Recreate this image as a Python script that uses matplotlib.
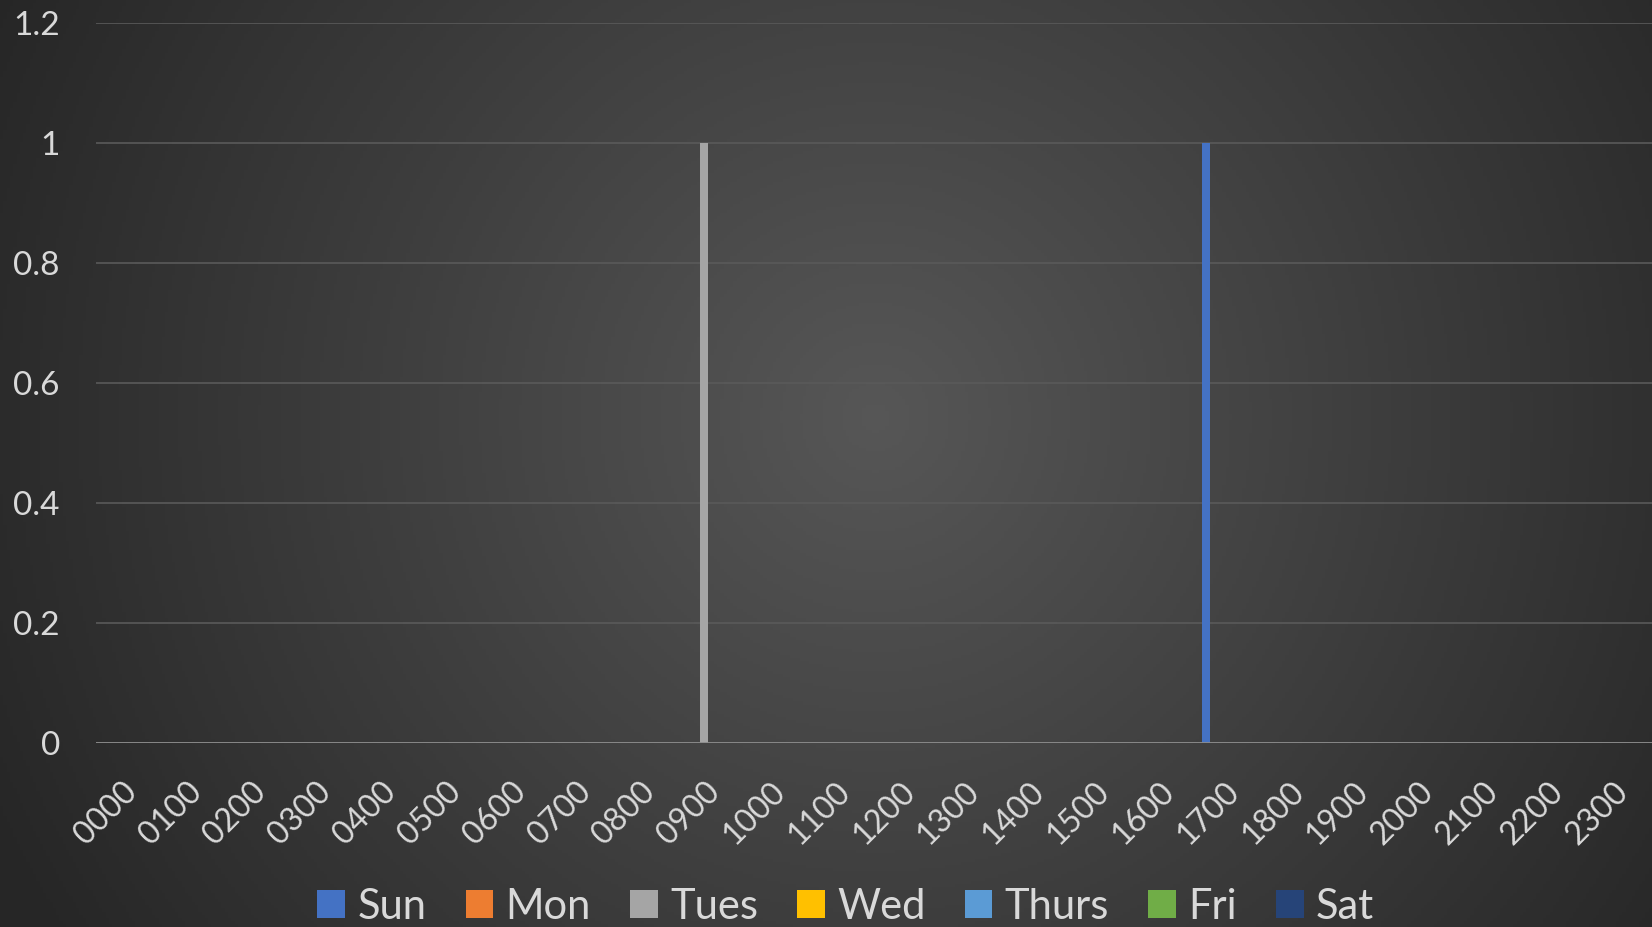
import numpy as np
import matplotlib.pyplot as plt
from matplotlib.transforms import ScaledTranslation

hours = ["0000", "0100", "0200", "0300", "0400", "0500", "0600", "0700",
         "0800", "0900", "1000", "1100", "1200", "1300", "1400", "1500",
         "1600", "1700", "1800", "1900", "2000", "2100", "2200", "2300"]

sun   = [0, 0, 0, 0, 0, 0, 0, 0, 0, 0, 0, 0, 0, 0, 0, 0, 0, 1, 0, 0, 0, 0, 0, 0]
mon   = [0, 0, 0, 0, 0, 0, 0, 0, 0, 0, 0, 0, 0, 0, 0, 0, 0, 0, 0, 0, 0, 0, 0, 0]
tues  = [0, 0, 0, 0, 0, 0, 0, 0, 0, 1, 0, 0, 0, 0, 0, 0, 0, 0, 0, 0, 0, 0, 0, 0]
wed   = [0, 0, 0, 0, 0, 0, 0, 0, 0, 0, 0, 0, 0, 0, 0, 0, 0, 0, 0, 0, 0, 0, 0, 0]
thurs = [0, 0, 0, 0, 0, 0, 0, 0, 0, 0, 0, 0, 0, 0, 0, 0, 0, 0, 0, 0, 0, 0, 0, 0]
fri   = [0, 0, 0, 0, 0, 0, 0, 0, 0, 0, 0, 0, 0, 0, 0, 0, 0, 0, 0, 0, 0, 0, 0, 0]
sat   = [0, 0, 0, 0, 0, 0, 0, 0, 0, 0, 0, 0, 0, 0, 0, 0, 0, 0, 0, 0, 0, 0, 0, 0]

series = [("Sun", sun, "#4472C4"), ("Mon", mon, "#ED7D31"), ("Tues", tues, "#A5A5A5"),
          ("Wed", wed, "#FFC000"), ("Thurs", thurs, "#5B9BD5"), ("Fri", fri, "#70AD47"),
          ("Sat", sat, "#264478")]

plt.rcParams['font.family'] = ['Lato', 'DejaVu Sans']
txt = "#d9d9d9"

fig = plt.figure(figsize=(16.52, 9.27), dpi=100)

# radial background gradient (lighter centre, dark edges)
bg = fig.add_axes([0, 0, 1, 1], zorder=-10)
yy, xx = np.mgrid[0:1:300j, 0:1:500j]
r = np.sqrt(((xx - 0.53) * 1.78) ** 2 + (yy - 0.45) ** 2)
r = np.clip(r / 1.05, 0, 1)
lo, hi = 0.15, 0.34
shade = hi - (hi - lo) * r
bg.imshow(np.dstack([shade] * 3), aspect="auto", extent=[0, 1, 0, 1], origin="upper")
bg.axis("off")

ax = fig.add_axes([0.0581, 0.1987, 0.9419, 0.7763])
ax.set_facecolor("none")

x = np.arange(len(hours))
w = 0.127
for i, (name, vals, col) in enumerate(series):
    ax.bar(x + (i - 3) * w, vals, width=w, color=col, label=name, zorder=3)

ax.set_xlim(-0.5, len(hours) - 0.5)
ax.set_ylim(0, 1.2)
ax.set_yticks([0, 0.2, 0.4, 0.6, 0.8, 1, 1.2])
ax.set_yticklabels(["0", "0.2", "0.4", "0.6", "0.8", "1", "1.2"])
ax.grid(axis="y", color="#5a5a5a", linewidth=1.2, zorder=0)
ax.axhline(0, color="#8c8c8c", linewidth=2, zorder=4)
for s in ax.spines.values():
    s.set_visible(False)
ax.tick_params(axis="both", length=0, colors=txt)
ax.tick_params(axis="y", pad=26, labelsize=24)
ax.set_xticks(x)
ax.set_xticklabels(hours, rotation=45, ha="right", rotation_mode="anchor")
ax.tick_params(axis="x", pad=24, labelsize=23)
shift = ScaledTranslation(-7 / 100, 0, fig.dpi_scale_trans)
for lab in ax.get_xticklabels():
    lab.set_transform(lab.get_transform() + shift)

leg = fig.legend(loc="center", bbox_to_anchor=(0.512, 0.022), ncol=7, frameon=False,
                 fontsize=30, labelcolor=txt, handlelength=0.66, handleheight=0.66,
                 handletextpad=0.3, columnspacing=0.94)

fig.savefig("out.png", dpi=100)
